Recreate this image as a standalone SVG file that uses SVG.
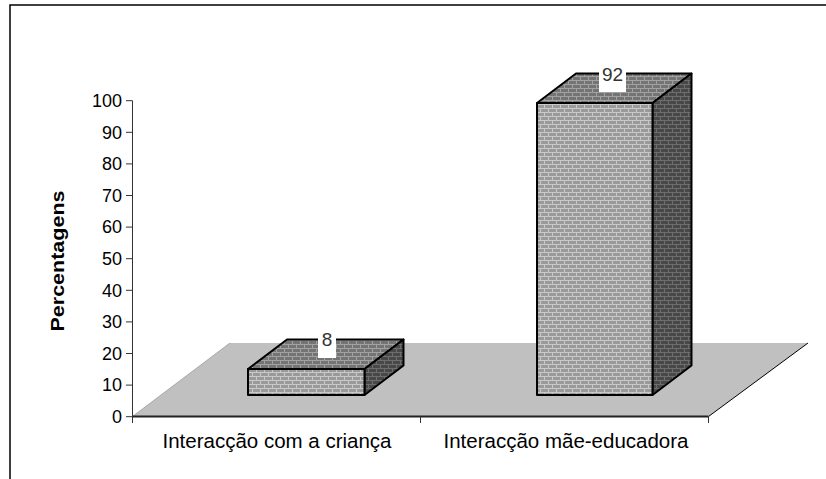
<svg xmlns="http://www.w3.org/2000/svg" width="826" height="479" viewBox="0 0 826 479">
<style>
  .lbl { font-family: "Liberation Sans", Arial, sans-serif; fill: #000; }
  .tick { font-size: 18px; text-anchor: end; }
  .cat { font-size: 20.5px; text-anchor: middle; }
  .val { font-size: 19px; text-anchor: middle; fill: #333; }
  .ax { stroke: #333; stroke-width: 1; fill: none; }
  .edge { stroke: #000; stroke-width: 2; stroke-linejoin: round; }
</style>
<defs>
  <pattern id="brickFront" width="8" height="8" patternUnits="userSpaceOnUse">
    <rect width="8" height="8" fill="#9a9a9a"/>
    <path d="M0 0.5H8M0 4.5H8M0.5 0.5V4.5M4.5 4.5V8" stroke="#c9c9c9" stroke-width="1" fill="none"/>
  </pattern>
  <pattern id="brickTop" width="8" height="8" patternUnits="userSpaceOnUse">
    <rect width="8" height="8" fill="#747474"/>
    <path d="M0 0.5H8M0 4.5H8M0.5 0.5V4.5M4.5 4.5V8" stroke="#a2a2a2" stroke-width="1" fill="none"/>
  </pattern>
  <pattern id="brickSide" width="8" height="8" patternUnits="userSpaceOnUse">
    <rect width="8" height="8" fill="#484848"/>
    <path d="M0 0.5H8M0 4.5H8M0.5 0.5V4.5M4.5 4.5V8" stroke="#6e6e6e" stroke-width="1" fill="none"/>
  </pattern>
</defs>

<rect width="826" height="479" fill="#fff"/>
<!-- outer frame -->
<path d="M10 479V5H826" stroke="#000" stroke-width="1.5" fill="none"/>

<!-- floor -->
<g id="floor">
  <polygon points="132.5,416.5 230,343 808,343 708.5,416.5" fill="#c0c0c0"/>
  <line x1="132.5" y1="416.5" x2="230" y2="343" stroke="#a8a8a8" stroke-width="1"/>
  <line x1="708.5" y1="416.5" x2="808" y2="343" stroke="#000" stroke-width="1"/>
  <line x1="132" y1="416.5" x2="708.5" y2="416.5" stroke="#222" stroke-width="2"/>
</g>

<!-- axes -->
<g id="axes">
  <line class="ax" x1="132.5" y1="100.7" x2="132.5" y2="423"/>
  <path class="ax" d="M126 100.7H132.5M126 132.3H132.5M126 163.9H132.5M126 195.5H132.5M126 227.1H132.5M126 258.7H132.5M126 290.3H132.5M126 321.9H132.5M126 353.5H132.5M126 385.1H132.5M126 416.7H132.5"/>
  <path class="ax" d="M420.5 416.5V423M708.5 416.5V423"/>
  <g class="lbl tick">
    <text x="122" y="107">100</text>
    <text x="122" y="138.6">90</text>
    <text x="122" y="170.2">80</text>
    <text x="122" y="201.8">70</text>
    <text x="122" y="233.4">60</text>
    <text x="122" y="265">50</text>
    <text x="122" y="296.6">40</text>
    <text x="122" y="328.2">30</text>
    <text x="122" y="359.8">20</text>
    <text x="122" y="391.4">10</text>
    <text x="122" y="423">0</text>
  </g>
  <text class="lbl" x="0" y="0" font-size="19" font-weight="bold" text-anchor="middle" textLength="141" lengthAdjust="spacingAndGlyphs" transform="translate(64 261) rotate(-90)">Percentagens</text>
</g>

<!-- bar 1 -->
<g id="bar1">
  <polygon class="edge" points="248,369 287,339.5 403.5,339.5 364.5,369" fill="url(#brickTop)"/>
  <polygon class="edge" points="364.5,369 403.5,339.5 403.5,365.5 364.5,395" fill="url(#brickSide)"/>
  <rect class="edge" x="248" y="369" width="116.5" height="26" fill="url(#brickFront)"/>
  <rect x="318" y="330" width="18" height="28" fill="#fff"/>
  <text class="lbl val" x="327" y="346.3">8</text>
</g>

<!-- bar 2 -->
<g id="bar2">
  <polygon class="edge" points="537,103 576,73.5 691.5,73.5 652.5,103" fill="url(#brickTop)"/>
  <polygon class="edge" points="652.5,103 691.5,73.5 691.5,365.5 652.5,395" fill="url(#brickSide)"/>
  <rect class="edge" x="537" y="103" width="115.5" height="292" fill="url(#brickFront)"/>
  <rect x="599" y="63" width="27" height="29" fill="#fff"/>
  <text class="lbl val" x="612.5" y="80.5">92</text>
</g>

<!-- category labels -->
<g id="categories" class="lbl cat">
  <text x="277" y="448.3">Interacção com a criança</text>
  <text x="566" y="448.3">Interacção mãe-educadora</text>
</g>
</svg>
